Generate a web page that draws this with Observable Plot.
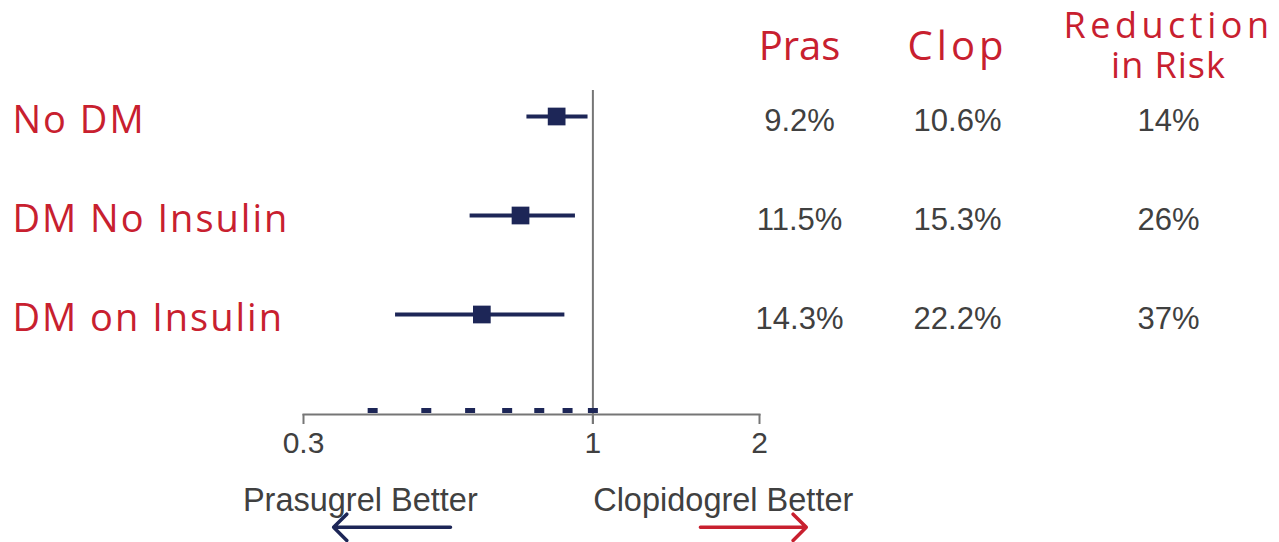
<!DOCTYPE html>
<html>
<head>
<meta charset="utf-8">
<script src="https://cdn.jsdelivr.net/npm/d3@7"></script>
<script src="https://cdn.jsdelivr.net/npm/@observablehq/plot@0.6"></script>
<style>
  html, body { margin: 0; padding: 0; background: #ffffff; }
  #chart svg { display: block; }
</style>
</head>
<body>
<div id="chart"></div>
<script>
// ---------- data ----------
const groups = ["No DM", "DM No Insulin", "DM on Insulin"];
const hazardRatio = [0.86, 0.74, 0.63];
const ciLow = [0.76, 0.60, 0.44];
const ciHigh = [0.98, 0.93, 0.89];
const prasRate = ["9.2%", "11.5%", "14.3%"];
const clopRate = ["10.6%", "15.3%", "22.2%"];
const riskReduction = ["14%", "26%", "37%"];
const columnHeaders = ["Pras", "Clop", "Reduction\nin Risk"];
const axisTicks = [0.3, 1, 2];
const minorTicks = [0.4, 0.5, 0.6, 0.7, 0.8, 0.9, 1];
const directionLabels = ["Prasugrel Better", "Clopidogrel Better"];
const directionLabelAt = [0.38, 1.72];
const arrowFrom = [0.553, 1.564];
const arrowTo = [0.34, 2.43];

// ---------- styling / layout ----------
const W = 1279, H = 542;
const navy = "#1d2657";
const red = "#c8202f";
const grayText = "#404040";
const axisGray = "#767676";
const redFont = "'Open Sans', Lato, sans-serif";
const grayFont = "'Liberation Sans', Arial, sans-serif";
const arrowRow = 4.15;   // annotation row below the last group
const labelRow = 3.88;

const rows = groups.map((g, i) => ({
  group: g, row: i, hr: hazardRatio[i], lo: ciLow[i], hi: ciHigh[i],
  pras: prasRate[i], clop: clopRate[i], rr: riskReduction[i]
}));
const dirs = directionLabels.map((t, i) => ({label: t, at: directionLabelAt[i], from: arrowFrom[i], to: arrowTo[i]}));

const columns = [
  {field: "pras", header: columnHeaders[0], dx: 40, hsize: 40},
  {field: "clop", header: columnHeaders[1], dx: 198, hsize: 40},
  {field: "rr", header: columnHeaders[2], dx: 409, hsize: 36}
];

const tableMarks = columns.flatMap(c => [
  Plot.text(rows, {
    y: "row", text: c.field, frameAnchor: "right", dx: c.dx, dy: 5,
    textAnchor: "middle", fontSize: 31, fill: grayText, fontFamily: grayFont
  }),
  Plot.text([c.header], {
    text: d => d, frameAnchor: "top-right", dx: c.dx, dy: -45,
    lineAnchor: "middle", lineHeight: 1.1, textAnchor: "middle",
    fontSize: c.hsize, fill: red, fontFamily: redFont
  })
]);

const chart = Plot.plot({
  width: W,
  height: H,
  marginLeft: 303,
  marginRight: 520,
  marginTop: 90,
  marginBottom: 128,
  style: {fontFamily: grayFont, background: "#ffffff", overflow: "visible"},
  x: {type: "log", domain: [0.3, 2], axis: null},
  y: {type: "linear", domain: [0, 2], range: [116, 314], axis: null},
  marks: [
    Plot.frame({anchor: "bottom", stroke: axisGray, strokeWidth: 2}),
    Plot.axisX({
      ticks: axisTicks, tickFormat: d => String(d), tickSize: 10, tickPadding: 7,
      fontSize: 30, stroke: axisGray, strokeWidth: 2, fill: grayText, fontFamily: grayFont
    }),
    Plot.ruleX([1], {stroke: axisGray, strokeWidth: 2, insetBottom: -10}),
    Plot.tickX(minorTicks, {x: d => d, stroke: navy, strokeWidth: 10, insetTop: 318, insetBottom: 1}),
    Plot.ruleY(rows, {y: "row", x1: "lo", x2: "hi", stroke: navy, strokeWidth: 4}),
    Plot.dot(rows, {x: "hr", y: "row", symbol: "square", r: 10, fill: navy, stroke: null}),
    Plot.text(rows, {
      y: "row", text: "group", frameAnchor: "left", dx: -291, dy: 4,
      textAnchor: "start", fontSize: 38, fill: red, fontFamily: redFont
    }),
    ...tableMarks,
    Plot.text(dirs, {
      x: "at", y: labelRow, text: "label", textAnchor: "middle",
      fontSize: 32.5, fill: grayText, fontFamily: grayFont
    }),
    Plot.arrow(dirs.slice(0, 1), {x1: "from", x2: "to", y1: arrowRow, y2: arrowRow, stroke: navy, strokeWidth: 3.5, headAngle: 90, headLength: 8}),
    Plot.arrow(dirs.slice(1), {x1: "from", x2: "to", y1: arrowRow, y2: arrowRow, stroke: red, strokeWidth: 3.5, headAngle: 90, headLength: 8})
  ]
});

// widen the red lettering toward the reference's wide geometric face
const spacing = new Map([
  ...groups.map(g => [g, "2px"]),
  ["Clop", "4px"], ["Reduction", "4.5px"], ["in Risk", "1px"]
]);
chart.querySelectorAll("text, tspan").forEach(el => {
  if (el.tagName === "text" && el.querySelector("tspan")) return;
  const s = spacing.get(el.textContent);
  if (s) el.setAttribute("letter-spacing", s);
});
document.getElementById("chart").appendChild(chart);
</script>
</body>
</html>
